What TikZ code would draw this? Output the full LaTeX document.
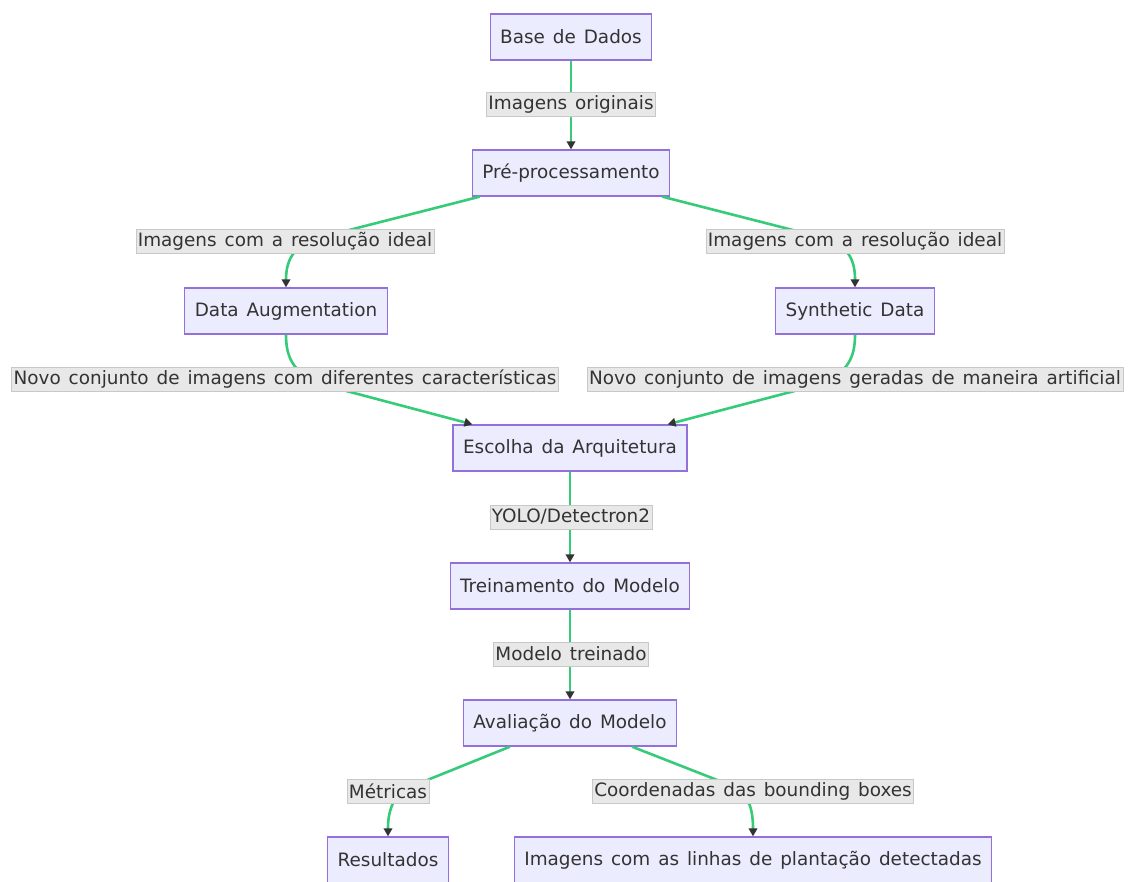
\documentclass[tikz,border=0pt]{standalone}
\usepackage{fontspec}
\setmainfont{DejaVu Sans}[WordSpace=1.35]
\usetikzlibrary{arrows.meta,calc}

\definecolor{nodefill}{HTML}{ECECFF}
\definecolor{nodeborder}{HTML}{9370DB}
\definecolor{edgegreen}{HTML}{36CB78}
\definecolor{labelfill}{HTML}{E8E8E8}
\definecolor{labelborder}{HTML}{C8C8C8}
\definecolor{textcol}{HTML}{333333}

\begin{document}
\begin{tikzpicture}[x=1pt,y=-1pt,
  stage/.style={draw=nodeborder, fill=nodefill, line width=1.3pt,
    minimum height=46pt, inner xsep=10pt, inner ysep=0pt,
    font=\fontsize{18.4}{22}\selectfont, text=textcol},
  tag/.style={fill=labelfill, draw=labelborder, line width=0.6pt,
    minimum height=24pt, inner xsep=2pt, inner ysep=0pt,
    font=\fontsize{18.4}{22}\selectfont, text=textcol},
  flow/.style={draw=edgegreen, line width=2.6pt,
    -{Triangle[length=8pt,width=8.5pt,color=textcol]}}
]
\fill[white] (0,0) rectangle (1131,882);
\useasboundingbox (0,0) rectangle (1131,882);

% stages of the pipeline
\node[stage] (db)  at (571,37)  {Base de Dados};
\node[stage] (pre) at (571,173) {Pré-processamento};
\node[stage] (da)  at (286,311) {Data Augmentation};
\node[stage] (sd)  at (855,311) {Synthetic Data};
\node[stage] (esc) at (570,448) {Escolha da Arquitetura};
\node[stage] (tr)  at (570,586) {Treinamento do Modelo};
\node[stage] (av)  at (570,723) {Avaliação do Modelo};
\node[stage] (res) at (388,860) {Resultados};
\node[stage] (img) at (753,860) {Imagens com as linhas de plantação detectadas};

% connectors
\draw[flow] (db.south) -- (pre.north);
\draw[flow] ([xshift=8pt]pre.south west) -- (318,238)
  .. controls (292,246) and (286,262) .. (da.north);
\draw[flow] ([xshift=-8pt]pre.south east) -- (824,238)
  .. controls (850,246) and (855,262) .. (sd.north);
\draw[flow] (da.south) .. controls (286,356) and (292,372) .. (320,384)
  -- ([xshift=20pt]esc.north west);
\draw[flow] (sd.south) .. controls (855,356) and (849,372) .. (821,384)
  -- ([xshift=-20pt]esc.north east);
\draw[flow] (esc.south) -- (tr.north);
\draw[flow] (tr.south) -- (av.north);
\draw[flow] ([xshift=-60pt]av.south) -- (410,787)
  .. controls (392,796) and (388,812) .. (res.north);
\draw[flow] ([xshift=62pt]av.south) -- (735,787)
  .. controls (750,796) and (753,812) .. (img.north);

% edge labels
\node[tag] (t1) at (571,104) {Imagens originais};
\node[tag] (t2) at (285,241) {Imagens com a resolução ideal};
\node[tag] (t3) at (855,241) {Imagens com a resolução ideal};
\node[tag] (t4) at (285,379) {Novo conjunto de imagens com diferentes características};
\node[tag] (t5) at (855,379) {Novo conjunto de imagens geradas de maneira artificial};
\node[tag] (t6) at (571,517) {YOLO/Detectron2};
\node[tag] (t7) at (571,654) {Modelo treinado};
\node[tag] (t8) at (388,791) {Métricas};
\node[tag] (t9) at (753,791) {Coordenadas das bounding boxes};
\end{tikzpicture}
\end{document}
